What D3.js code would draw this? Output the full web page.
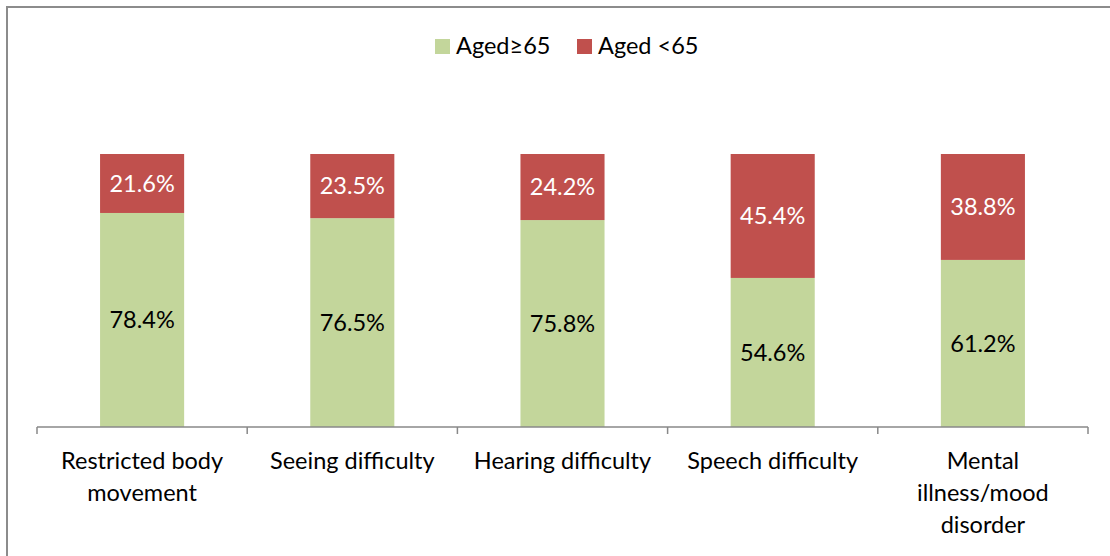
<!DOCTYPE html>
<html>
<head>
<meta charset="utf-8">
<script src="https://cdn.jsdelivr.net/npm/d3@7"></script>
<style>
  body { margin: 0; background: #fff; }
  text { font-family: Lato, "Open Sans", sans-serif; }
</style>
</head>
<body>
<svg width="1110" height="556"></svg>
<script>
var categories = ['Restricted body|movement', 'Seeing difficulty', 'Hearing difficulty', 'Speech difficulty', 'Mental|illness/mood|disorder'];
var seriesNames = ['Aged\u226565', 'Aged <65'];
var aged65Plus = [78.4, 76.5, 75.8, 54.6, 61.2];
var agedUnder65 = [21.6, 23.5, 24.2, 45.4, 38.8];
var colors = ['#C3D69B', '#C0504D'];
var labelColors = ['#000', '#fff'];

var svg = d3.select('svg'),
    width = +svg.attr('width'),
    height = +svg.attr('height'),
    fontSize = 23.5;

// chart border (only left/top visible in the crop)
svg.append('path')
   .attr('d', 'M7,' + height + 'V7H' + width)
   .attr('fill', 'none')
   .attr('stroke', '#8c8c8c')
   .attr('stroke-width', 2);

var x = d3.scaleBand()
          .domain(categories)
          .range([37, 1088])
          .paddingInner(0.6)
          .paddingOuter(0.3);

var y = d3.scaleLinear()
          .domain([0, 100])
          .range([427, 154]);

var rows = categories.map(function(c, i) {
  return { cat: c, a: aged65Plus[i], b: agedUnder65[i] };
});
var stacked = d3.stack().keys(['a', 'b'])(rows);

var layers = svg.append('g').selectAll('g')
  .data(stacked)
  .enter().append('g')
  .attr('fill', function(d, i) { return colors[i]; });

layers.selectAll('rect')
  .data(function(d) { return d; })
  .enter().append('rect')
  .attr('x', function(d) { return x(d.data.cat); })
  .attr('y', function(d) { return y(d[1]); })
  .attr('width', x.bandwidth())
  .attr('height', function(d) { return y(d[0]) - y(d[1]); });

layers.each(function(layer, li) {
  d3.select(this).selectAll('text')
    .data(layer)
    .enter().append('text')
    .attr('x', function(d) { return x(d.data.cat) + x.bandwidth() / 2; })
    .attr('y', function(d) { return (y(d[0]) + y(d[1])) / 2; })
    .attr('dy', '0.35em')
    .attr('text-anchor', 'middle')
    .attr('fill', labelColors[li])
    .style('font-size', fontSize + 'px')
    .text(function(d) { return (d[1] - d[0]).toFixed(1) + '%'; });
});

// category axis with ticks between the categories
var axisG = svg.append('g').attr('stroke', '#888').attr('stroke-width', 1.5);
axisG.append('line')
  .attr('x1', 37).attr('x2', 1088)
  .attr('y1', y(0)).attr('y2', y(0));
d3.range(categories.length + 1).forEach(function(i) {
  var tx = 37 + i * (1088 - 37) / categories.length;
  axisG.append('line')
    .attr('x1', tx).attr('x2', tx)
    .attr('y1', y(0)).attr('y2', y(0) + 7);
});

svg.append('g').selectAll('text')
  .data(categories)
  .enter().append('text')
  .attr('text-anchor', 'middle')
  .attr('fill', '#000')
  .style('font-size', fontSize + 'px')
  .attr('transform', function(d) {
    return 'translate(' + (x(d) + x.bandwidth() / 2) + ',469)';
  })
  .each(function(d) {
    var t = d3.select(this);
    d.split('|').forEach(function(line, i) {
      t.append('tspan').attr('x', 0).attr('y', i * 32).text(line);
    });
  });

// legend
var legend = svg.append('g');
var legendX = [435, 577];
seriesNames.forEach(function(name, i) {
  legend.append('rect')
    .attr('x', legendX[i]).attr('y', 39)
    .attr('width', 15).attr('height', 15)
    .attr('fill', colors[i]);
  legend.append('text')
    .attr('x', legendX[i] + 21).attr('y', 54)
    .style('font-size', fontSize + 'px')
    .text(name);
});
</script>
</body>
</html>
